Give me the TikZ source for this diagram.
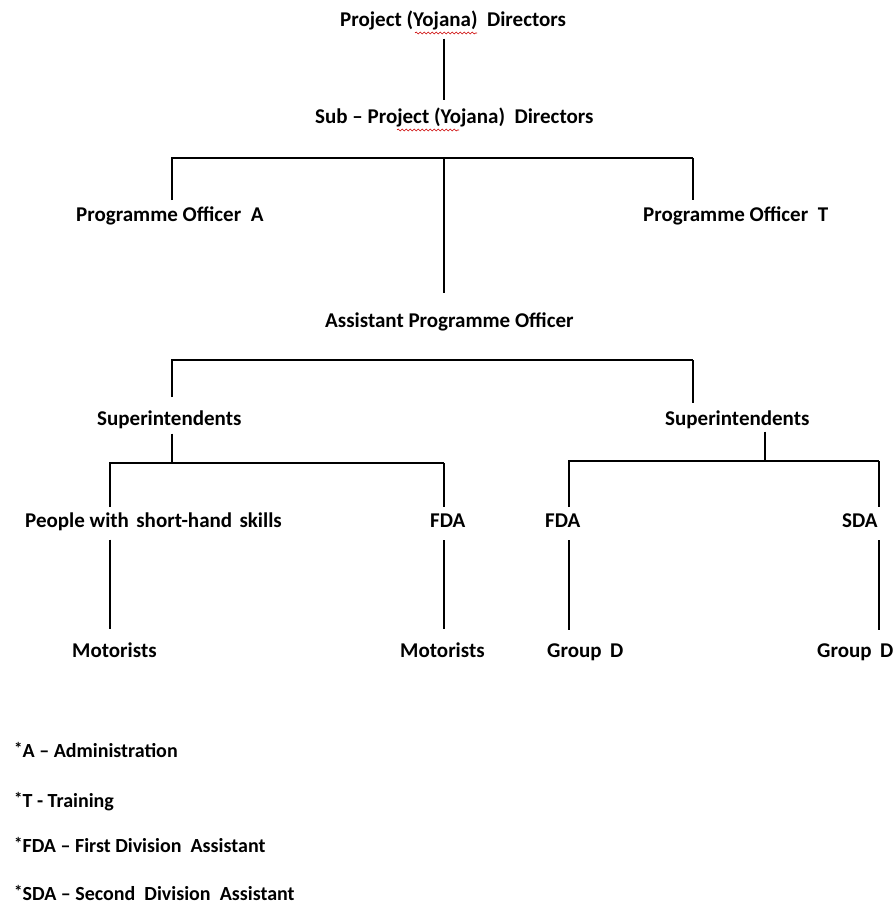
\documentclass[tikz,border=0pt]{standalone}
\usepackage{fontspec}
\setmainfont{Carlito}
\usetikzlibrary{positioning,calc,decorations.pathmorphing}

\tikzset{
  lbl/.style={anchor=base west, inner sep=0pt, font=\bfseries\fontsize{21}{25}\selectfont},
  keylbl/.style={lbl, font=\bfseries\fontsize{20}{24}\selectfont},
  link/.style={line width=1.4pt},
  squig/.style={red!80!black, line width=0.6pt, decorate,
    decoration={snake, amplitude=1pt, segment length=4pt}},
}
\newcommand{\keymark}{\raisebox{3pt}{\fontsize{17}{17}\selectfont *}}

\begin{document}
\begin{tikzpicture}[x=1pt,y=-1pt]
\useasboundingbox (0,0) rectangle (894,909);

% upper levels
\node[lbl] (proj) at (340,27) {Project (Yojana)\ \ Directors};
\node[lbl] (sub) at (315,124) {Sub -- Project (Yojana)\ \ Directors};
\node[lbl] (poA) at (76,222) {Programme Officer\ \ A};
\node[lbl] (poT) at (643,222) {Programme Officer\ \ T};
\node[lbl] (apo) at (325,327) {Assistant Programme Officer};

% superintendents
\node[lbl] (supL) at (97,425) {Superintendents};
\node[lbl] (supR) at (665,425) {Superintendents};

\node[lbl] (pws) at (25,527) {People with\hspace{0.35em}short-hand\hspace{0.35em}skills};
\node[lbl] (fdaL) at (430,527) {FDA};
\node[lbl] (fdaR) at (545,527) {FDA};
\node[lbl] (sda) at (842,527) {SDA};

\node[lbl] (motL) at (72,657) {Motorists};
\node[lbl] (motR) at (400,657) {Motorists};
\node[lbl] (grpL) at (547,657) {Group\hspace{0.4em}D};
\node[lbl] (grpR) at (817,657) {Group\hspace{0.4em}D};

% legend
\node[keylbl] (keyA) at (14,757) {\keymark A -- Administration};
\node[keylbl] (keyT) at (14,807) {\keymark T - Training};
\node[keylbl] (keyF) at (14,852) {\keymark FDA -- First Division\ \ Assistant};
\node[keylbl] (keyS) at (14,900) {\keymark SDA -- Second\ \ Division\ \ Assistant};

% columns and bracket levels
\coordinate (cA) at (444,0);
\coordinate (cL) at (172,0);
\coordinate (cR) at (693,0);
\coordinate (b1) at (444,158);
\coordinate (b2) at (0,360);
\coordinate (b3) at (0,463);
\coordinate (b4) at (0,461);
\coordinate (c1) at (110,0);
\coordinate (c2) at (569,0);
\coordinate (c3) at (879,0);
\coordinate (c4) at (765,0);

\draw[link, shorten <=8pt, shorten >=8pt] (cA |- proj.south) -- (cA |- sub.north);
\draw[link, shorten <=7pt] (cL |- poA.north) -- (cL |- b1) -- (cR |- b1);
\draw[link, shorten >=7pt] (cR |- b1) -- (cR |- poT.north);
\draw[link, shorten >=19pt] (b1) -- (cA |- apo.north);

\draw[link, shorten <=13pt] (cL |- supL.north) -- (cL |- b2) -- (cR |- b2);
\draw[link, shorten >=7pt] (cR |- b2) -- (cR |- supR.north);

% left branch
\draw[link, shorten <=5pt] (cL |- supL.south) -- (cL |- b3);
\draw[link, shorten <=5pt] (c1 |- pws.north) -- (c1 |- b3) -- (cA |- b3);
\draw[link, shorten >=6pt] (cA |- b3) -- (cA |- fdaL.north);
\draw[link, shorten <=9pt, shorten >=13pt] (c1 |- pws.south) -- (c1 |- motL.north);
\draw[link, shorten <=13pt, shorten >=13pt] (cA |- fdaL.south) -- (cA |- motR.north);

% right branch
\draw[link, shorten <=3pt] (c4 |- supR.south) -- (c4 |- b4);
\draw[link, shorten <=6pt] (c2 |- fdaR.north) -- (c2 |- b4) -- (c3 |- b4);
\draw[link, shorten >=6pt] (c3 |- b4) -- (c3 |- sda.north);
\draw[link, shorten <=13pt, shorten >=13pt] (c2 |- fdaR.south) -- (c2 |- grpL.north);
\draw[link, shorten <=13pt, shorten >=13pt] (c3 |- sda.south) -- (c3 |- grpR.north);

% spell-check marks
\draw[squig] ($(proj.base west)+(75,6)$) -- ++(62,0);
\draw[squig] ($(sub.base west)+(82,6)$) -- ++(62,0);
\end{tikzpicture}
\end{document}
